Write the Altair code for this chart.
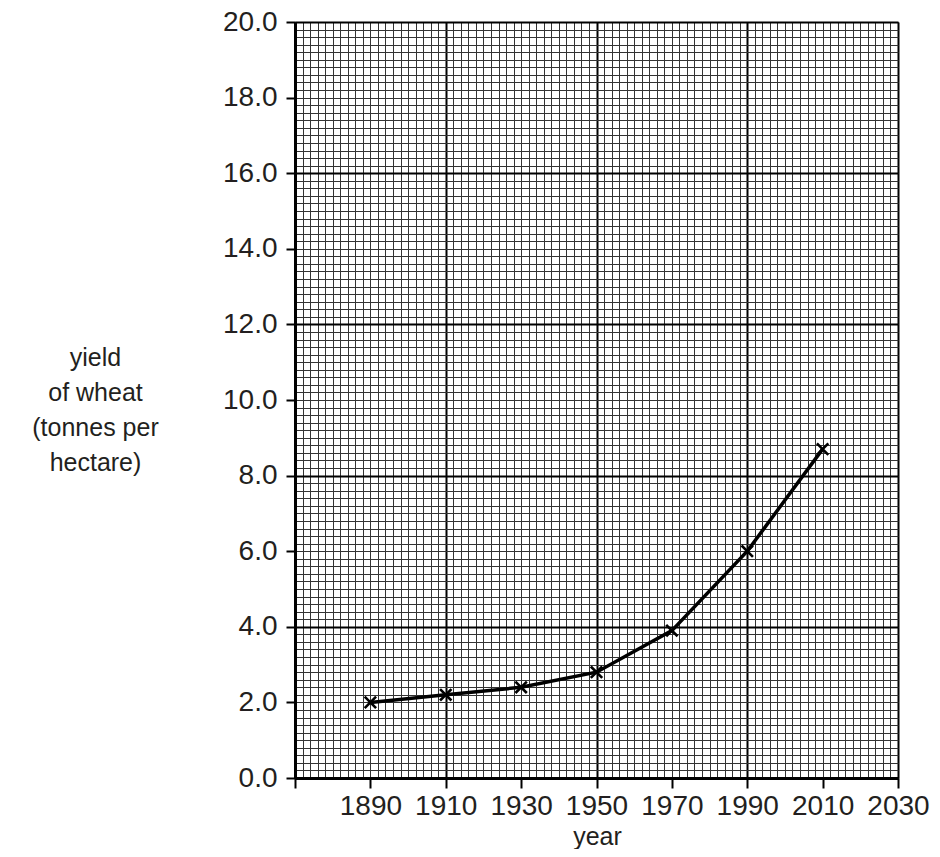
import altair as alt
import pandas as pd

# data
years = [1890, 1910, 1930, 1950, 1970, 1990, 2010]
yields = [2.0, 2.2, 2.4, 2.8, 3.9, 6.0, 8.7]

x_ticks = [1870, 1890, 1910, 1930, 1950, 1970, 1990, 2010, 2030]
y_ticks = [0, 2, 4, 6, 8, 10, 12, 14, 16, 18, 20]
x_major = [1870, 1910, 1950, 1990, 2030]
y_major = [0, 4, 8, 12, 16, 20]
x_minor = list(range(1870, 2031, 2))
y_minor = [round(i * 0.2, 1) for i in range(101)]

df = pd.DataFrame({"year": years, "yield": yields})

FONT = "Liberation Sans"
TXT = "#231f20"

xscale = alt.Scale(domain=[1870, 2030], nice=False, zero=False)
yscale = alt.Scale(domain=[0, 20], nice=False, zero=False)


def grid_layer(xv, yv, color, width):
    return alt.Chart(df).mark_point(opacity=0).encode(
        x=alt.X("year:Q", scale=xscale,
                axis=alt.Axis(values=xv, orient="bottom", grid=True, gridColor=color,
                              gridWidth=width, gridOpacity=1, labels=False, ticks=False,
                              domain=False, title=None, zindex=0)),
        y=alt.Y("yield:Q", scale=yscale,
                axis=alt.Axis(values=yv, orient="left", grid=True, gridColor=color,
                              gridWidth=width, gridOpacity=1, labels=False, ticks=False,
                              domain=False, title=None, zindex=0)),
    )


minor = grid_layer(x_minor, y_minor, "#333333", 1)
major = grid_layer(x_major, y_major, "#000000", 2)

x_axis = alt.Axis(values=x_ticks, orient="bottom", grid=False, format="d",
                  labelExpr="datum.value == 1870 ? '' : datum.label",
                  tickSize=10, tickWidth=2, tickColor="black",
                  domainWidth=3, domainColor="black",
                  labelFont=FONT, labelFontSize=28, labelColor=TXT, labelPadding=4,
                  labelFlush=False, labelOverlap=False,
                  title="year", titleFont=FONT, titleFontSize=25, titleColor=TXT,
                  titleFontWeight="normal", titleBaseline="alphabetic", titleY=66,
                  titleX=302, titleAlign="center", zindex=2)

y_axis = alt.Axis(values=y_ticks, orient="left", grid=False, format=".1f",
                  tickSize=9, tickWidth=2, tickColor="black",
                  domainWidth=3, domainColor="black",
                  labelFont=FONT, labelFontSize=28, labelColor=TXT, labelPadding=9,
                  labelFlush=False, labelOverlap=False,
                  title=["yield", "of wheat", "(tonnes per", "hectare)"],
                  titleFont=FONT, titleFontSize=25, titleColor=TXT, titleFontWeight="normal",
                  titleAngle=0, titleAlign="center", titleBaseline="alphabetic",
                  titleX=-200, titleY=343, titleLineHeight=35, zindex=2)

base = alt.Chart(df).encode(
    x=alt.X("year:Q", scale=xscale, axis=x_axis),
    y=alt.Y("yield:Q", scale=yscale, axis=y_axis),
)

line = base.mark_line(color="black", strokeWidth=3.5)
pts = base.mark_point(shape="M-1,-1L1,1M1,-1L-1,1", size=130, filled=False,
                      stroke="black", strokeWidth=2.6, opacity=1)

chart = (
    alt.layer(minor, major, line + pts)
    .resolve_axis(x="independent", y="independent")
    .properties(width=603, height=756,
                autosize=alt.AutoSizeParams(type="none"),
                padding={"left": 287, "top": 14, "right": 34, "bottom": 71})
    .configure_view(stroke=None)
    .configure(background="white")
)

chart.save("out.html", embed_options={"renderer": "svg", "actions": False})
